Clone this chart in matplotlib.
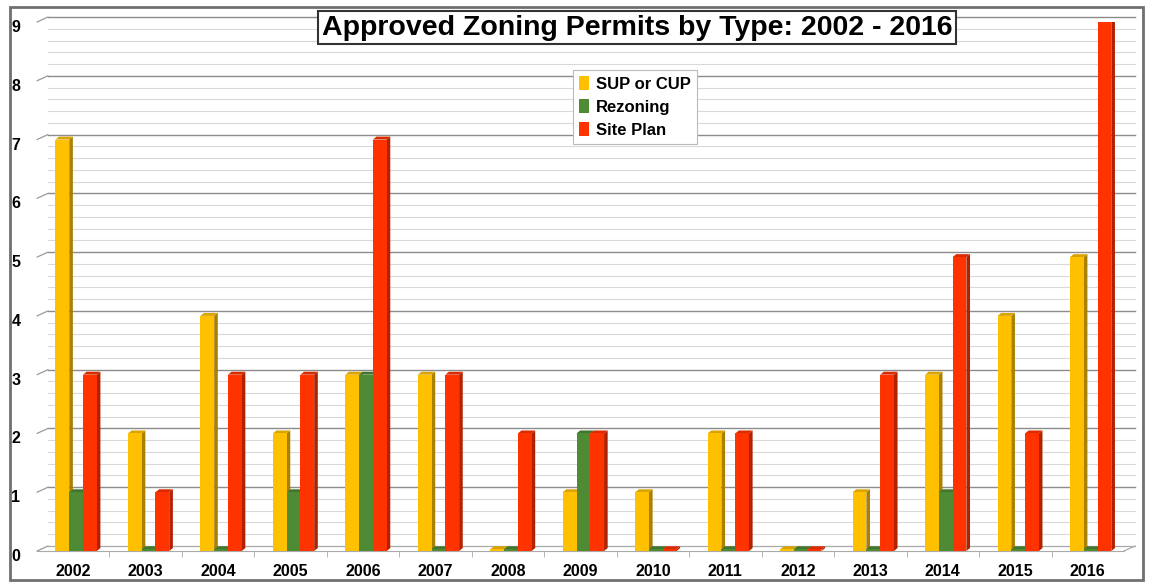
import matplotlib.pyplot as plt
import matplotlib.transforms as mtransforms
import numpy as np
from matplotlib.patches import Rectangle

years = ["2002", "2003", "2004", "2005", "2006", "2007", "2008", "2009",
         "2010", "2011", "2012", "2013", "2014", "2015", "2016"]
sup_cup = [7, 2, 4, 2, 3, 3, 0, 1, 1, 2, 0, 1, 3, 4, 5]
rezoning = [1, 0, 0, 1, 3, 0, 0, 2, 0, 0, 0, 0, 1, 0, 0]
site_plan = [3, 1, 3, 3, 7, 3, 2, 2, 0, 2, 0, 3, 5, 2, 9]

# name, values, front colour, side colour, top colour, offset in group
series = [
    ("SUP or CUP", sup_cup, "#FFC000", "#A98000", "#D9A300", -0.15),
    ("Rezoning", rezoning, "#4F8A35", "#345E22", "#42762C", 0.04),
    ("Site Plan", site_plan, "#FF3300", "#B02200", "#D92B00", 0.23),
]

plt.rcParams['font.family'] = ['Liberation Sans', 'DejaVu Sans']

fig = plt.figure(figsize=(11.52, 5.87), dpi=100)
ax = fig.add_axes([37 / 1152, 36 / 587, 1087 / 1152, 529 / 587])

x = np.arange(len(years))
w = 0.19
dx = 0.05   # depth of the fake 3d side
dy = 0.05

for name, vals, col, dark, topc, off in series:
    vals = np.array(vals, dtype=float)
    h = np.maximum(vals, 0.03)
    ax.bar(x + off, h, width=w, color=col, label=name, zorder=3)
    for xi, v in zip(x + off, h):
        right = xi + w / 2
        # side face
        ax.fill([right, right + dx, right + dx, right],
                [0, dy, v + dy, v], color=dark, zorder=2.9, lw=0)
        # top face
        ax.fill([xi - w / 2, xi - w / 2 + dx, right + dx, right],
                [v, v + dy, v + dy, v], color=topc, zorder=2.9, lw=0)

ax.set_xlim(-0.5, len(years) - 0.5)
ax.set_ylim(0, 9)

# back wall gridlines, shifted up/right for a 3d look
back = ax.get_yaxis_transform() + mtransforms.ScaledTranslation(11 / 100, 5 / 100, fig.dpi_scale_trans)
for yv in np.arange(0.2, 9.01, 0.2):
    major = abs(yv - round(yv)) < 1e-6
    ax.plot([0, 1], [yv, yv], transform=back, clip_on=False, zorder=0,
            color='#8C8C8C' if major else '#D9D9D9', lw=1.0 if major else 0.8)
for yv in range(0, 10):
    ax.annotate("", xy=(0, yv), xycoords=ax.get_yaxis_transform(),
                xytext=(11 * 0.72, 5 * 0.72), textcoords='offset points',
                arrowprops=dict(arrowstyle='-', color='#9A9A9A', lw=0.9,
                                shrinkA=0, shrinkB=0), annotation_clip=False)
# floor
ax.plot([0, 1], [0, 0], transform=back, clip_on=False, zorder=0,
        color='#AAAAAA', lw=0.9)
ax.annotate("", xy=(1, 0), xycoords=ax.get_yaxis_transform(),
            xytext=(11 * 0.72, 5 * 0.72), textcoords='offset points',
            arrowprops=dict(arrowstyle='-', color='#AAAAAA', lw=0.9,
                            shrinkA=0, shrinkB=0), annotation_clip=False)

ax.set_yticks(range(0, 10))
ax.set_xticks(x)
ax.set_xticklabels(years, fontsize=11.5, fontweight='bold')
ax.set_xticks(np.arange(0.5, len(years) - 1, 1), minor=True)
ax.tick_params(axis='x', which='major', length=0, pad=9)
ax.tick_params(axis='x', which='minor', length=4, color='#AAAAAA')
ax.tick_params(axis='y', which='both', length=0, pad=12)
down = mtransforms.ScaledTranslation(0, -4 / 100, fig.dpi_scale_trans)
for t in ax.get_yticklabels():
    t.set_fontweight('bold')
    t.set_fontsize(11.5)
    t.set_transform(t.get_transform() + down)
for s in ['top', 'right', 'left']:
    ax.spines[s].set_visible(False)
ax.spines['bottom'].set_color('#AAAAAA')

leg = ax.legend(loc='upper left', bbox_to_anchor=(528 / 1087, 0.925),
                prop={'weight': 'bold', 'size': 12}, handlelength=0.6,
                handleheight=0.9, handletextpad=0.4, fancybox=False,
                framealpha=1, edgecolor='#BBBBBB', borderpad=0.35,
                labelspacing=0.45)
leg.get_frame().set_linewidth(0.8)

fig.text(0.553, 0.953, "Approved Zoning Permits by Type: 2002 - 2016",
         ha='center', va='center', fontsize=20.5, fontweight='bold',
         bbox=dict(boxstyle='square,pad=0.12', fc='white', ec='#333333', lw=1.5))

fig.patches.append(Rectangle((10 / 1152, 7 / 587), 1133 / 1152, 573 / 587,
                             transform=fig.transFigure, fill=False,
                             ec='#707070', lw=2))

fig.savefig("out.png", dpi=100)
